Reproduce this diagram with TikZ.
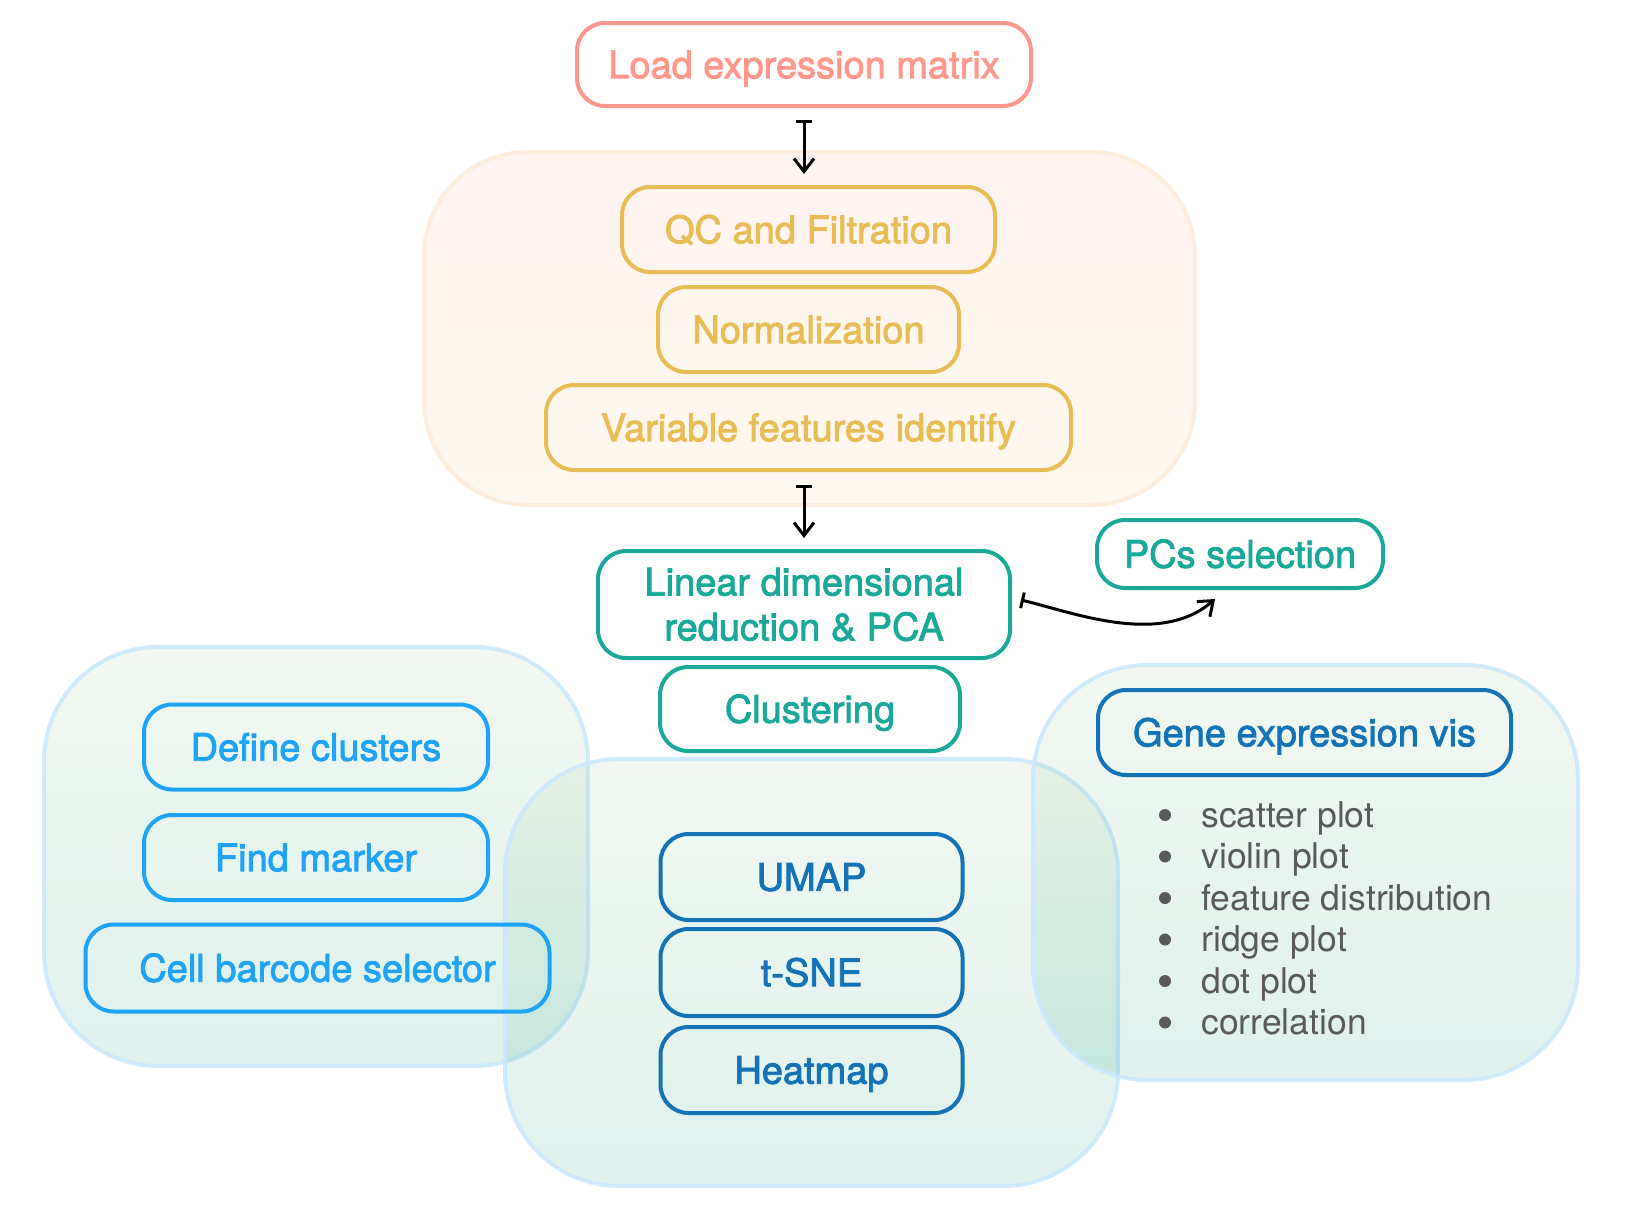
\documentclass[tikz,border=0pt]{standalone}
\usepackage{fontspec}
\setmainfont{TeX Gyre Heros}
\newfontfamily\boxfont{TeX Gyre Heros}[FakeBold=2.2]
\usetikzlibrary{arrows.meta,calc}
\definecolor{cSalmon}{HTML}{FF978D}
\definecolor{cGold}{HTML}{E8BD55}
\definecolor{cTeal}{HTML}{1AA898}
\definecolor{cBright}{HTML}{1FA3F6}
\definecolor{cDark}{HTML}{1473B7}
\definecolor{cGray}{HTML}{5A5A5A}
\definecolor{gLine}{HTML}{C9E8FB}
\definecolor{gTop}{RGB}{168,208,162}
\definecolor{gBot}{RGB}{30,160,130}
\definecolor{oTop}{HTML}{FFF3EF}
\definecolor{oBot}{HTML}{FFF8EE}
\definecolor{oLine}{HTML}{FDEDDD}
\begin{document}
\begin{tikzpicture}[x=0.5pt,y=-0.5pt,
  box/.style={draw, rounded corners=14pt, line width=2pt, inner sep=0pt, align=center,
    font=\boxfont\fontsize{19pt}{22.5pt}\selectfont},
  onel/.style={text height=13.7pt, text depth=0pt},
  grp/.style={rounded corners=57pt, line width=2pt, draw=gLine, draw opacity=0.85,
    top color=gTop, bottom color=gBot, fill opacity=0.15},
  ogrp/.style={rounded corners=52pt, line width=2pt, draw=oLine, top color=oTop, bottom color=oBot},
  conn/.style={line width=1.5pt, {Bar[width=8pt,line width=1.5pt]}-{Straight Barb[length=6.5pt,width=10pt,line width=1.5pt]}},
  bul/.style={circle, fill=cGray, inner sep=0pt, minimum size=6pt},
  item/.style={anchor=base west, text=cGray, inner sep=0pt, font=\fontsize{17.75pt}{20pt}\selectfont}
]
\useasboundingbox (0,0) rectangle (1643,1205);

% group backgrounds
\path[ogrp] (424,152) rectangle (1195,505);
\path[grp] (44,647) rectangle (588,1066);
\path[grp] (505,759) rectangle (1118,1186);
\path[grp] (1033,665) rectangle (1578,1080);

% top chain
\node[box, onel, draw=cSalmon, text=cSalmon, minimum width=227pt, minimum height=41.5pt] (load) at (804,64.5) {Load expression matrix};
\node[box, onel, draw=cGold, text=cGold, minimum width=186.5pt, minimum height=42.5pt] (qc) at (808.5,229.5) {QC and Filtration};
\node[box, onel, draw=cGold, text=cGold, minimum width=150.5pt, minimum height=42.5pt] (norm) at (808.5,329.5) {Normalization};
\node[box, onel, draw=cGold, text=cGold, minimum width=262.5pt, minimum height=42.5pt] (var) at (808.5,427.5) {Variable features identify};
\node[box, draw=cTeal, text=cTeal, minimum width=206pt, minimum height=53.5pt] (lin) at (804,604.5) {Linear dimensional\\reduction \& PCA};
\node[box, onel, draw=cTeal, text=cTeal, minimum width=150pt, minimum height=42pt] (clu) at (810,709) {Clustering};
\node[box, onel, draw=cTeal, text=cTeal, minimum width=143pt, minimum height=34pt] (pcs) at (1240,554) {PCs selection};

% left group
\node[box, onel, draw=cBright, text=cBright, minimum width=172pt, minimum height=42.5pt] (def) at (316,747) {Define clusters};
\node[box, onel, draw=cBright, text=cBright, minimum width=172pt, minimum height=42.5pt] (fm) at (316,857.5) {Find marker};
\node[box, onel, draw=cBright, text=cBright, minimum width=232pt, minimum height=43.5pt] (cell) at (317.5,968) {Cell barcode selector};

% center group
\node[box, onel, draw=cDark, text=cDark, minimum width=151pt, minimum height=43pt] (umap) at (811.5,877) {UMAP};
\node[box, onel, draw=cDark, text=cDark, minimum width=151pt, minimum height=43.5pt] (tsne) at (811.5,972.5) {t-SNE};
\node[box, onel, draw=cDark, text=cDark, minimum width=151pt, minimum height=43pt] (heat) at (811.5,1070) {Heatmap};

% right group
\node[box, onel, draw=cDark, text=cDark, minimum width=206.5pt, minimum height=42.5pt] (gene) at (1304.5,732.5) {Gene expression vis};
\node[bul] (b1) at (1165,815) {};
\node[bul] (b2) at (1165,856.5) {};
\node[bul] (b3) at (1165,898) {};
\node[bul] (b4) at (1165,939.5) {};
\node[bul] (b5) at (1165,981) {};
\node[bul] (b6) at (1165,1022.5) {};
\node[item] (t1) at (1201,827) {scatter plot};
\node[item] (t2) at (1201,868.5) {violin plot};
\node[item] (t3) at (1201,910) {feature distribution};
\node[item] (t4) at (1201,951.5) {ridge plot};
\node[item] (t5) at (1201,993) {dot plot};
\node[item] (t6) at (1201,1034.5) {correlation};

% connectors
\draw[conn, shorten <=6pt, shorten >=5.5pt] (load.south) -- (load.south |- qc.north);
\draw[conn, shorten <=6.5pt, shorten >=5.5pt] (var.south -| lin.north) -- (lin.north);
\coordinate (cs) at ($(lin.east)+(9,-4.5)$);
\coordinate (ce) at ($(pcs.south)+(-25,9)$);
\draw[conn] (cs) .. controls +(51,12) and +(-55,48) .. (ce);
\end{tikzpicture}
\end{document}
